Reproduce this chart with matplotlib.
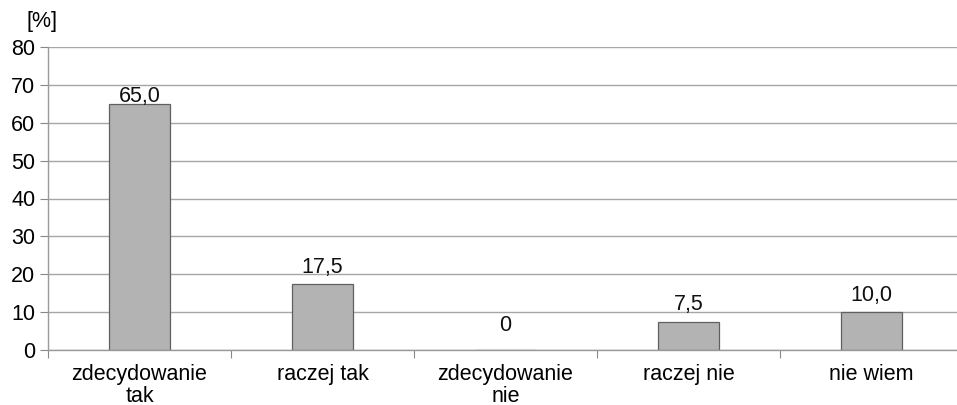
import matplotlib
matplotlib.use("Agg")
import matplotlib.pyplot as plt
import numpy as np

kategorie = ["zdecydowanie\ntak", "raczej tak", "zdecydowanie\nnie", "raczej nie", "nie wiem"]
procenty = [65.0, 17.5, 0.0, 7.5, 10.0]
etykiety = ["65,0", "17,5", "0", "7,5", "10,0"]

plt.rcParams["font.family"] = ["Liberation Sans", "DejaVu Sans"]
ROZMIAR = 15.5

fig = plt.figure(figsize=(9.57, 4.05), dpi=100)
ax = fig.add_axes([48 / 957, 55 / 405, 915 / 957, 303 / 405])

x = np.arange(len(kategorie))
ax.bar(x, procenty, width=0.33, color="#b3b3b3", edgecolor="#606060", linewidth=0.9, zorder=3)

# odstęp podpisu od wierzchołka słupka (w punktach); najwyższy podpis
# dosunięty do słupka, żeby nie wchodził na linię siatki
odstepy = []
for val in procenty:
    if val == max(procenty):
        odstepy.append(1)
    elif val == 0:
        odstepy.append(14)
    else:
        odstepy.append(8)

for xi, val, txt, dy in zip(x, procenty, etykiety, odstepy):
    ax.annotate(txt, (xi, val), xytext=(0, dy), textcoords="offset points",
                ha="center", va="baseline", fontsize=ROZMIAR, color="#111111")

ax.set_xlim(-0.5, len(kategorie) - 0.5)
ax.set_ylim(0, 80)
ax.set_yticks(range(0, 81, 10))
ax.grid(axis="y", color="#a6a6a6", linewidth=1.0, zorder=0)

# podziałki osi X na granicach kategorii, podpisy pośrodku
ax.set_xticks(np.arange(-0.5, len(kategorie), 1.0))
ax.set_xticklabels([])
ax.set_xticks(x, minor=True)
ax.set_xticklabels(kategorie, minor=True, fontsize=ROZMIAR, linespacing=1.05)
ax.tick_params(axis="x", which="major", length=6, color="#888888", direction="out")
ax.tick_params(axis="x", which="minor", length=0, pad=10)
ax.tick_params(axis="y", length=6, color="#888888", labelsize=ROZMIAR, pad=3)

for side in ("top", "right"):
    ax.spines[side].set_visible(False)
for side in ("left", "bottom"):
    ax.spines[side].set_color("#999999")
    ax.spines[side].set_linewidth(1.0)
ax.spines["bottom"].set_zorder(4)

fig.text(27 / 957, 1 - 22 / 405, "[%]", fontsize=ROZMIAR, va="center", ha="left")

fig.savefig("out.png", dpi=100)
